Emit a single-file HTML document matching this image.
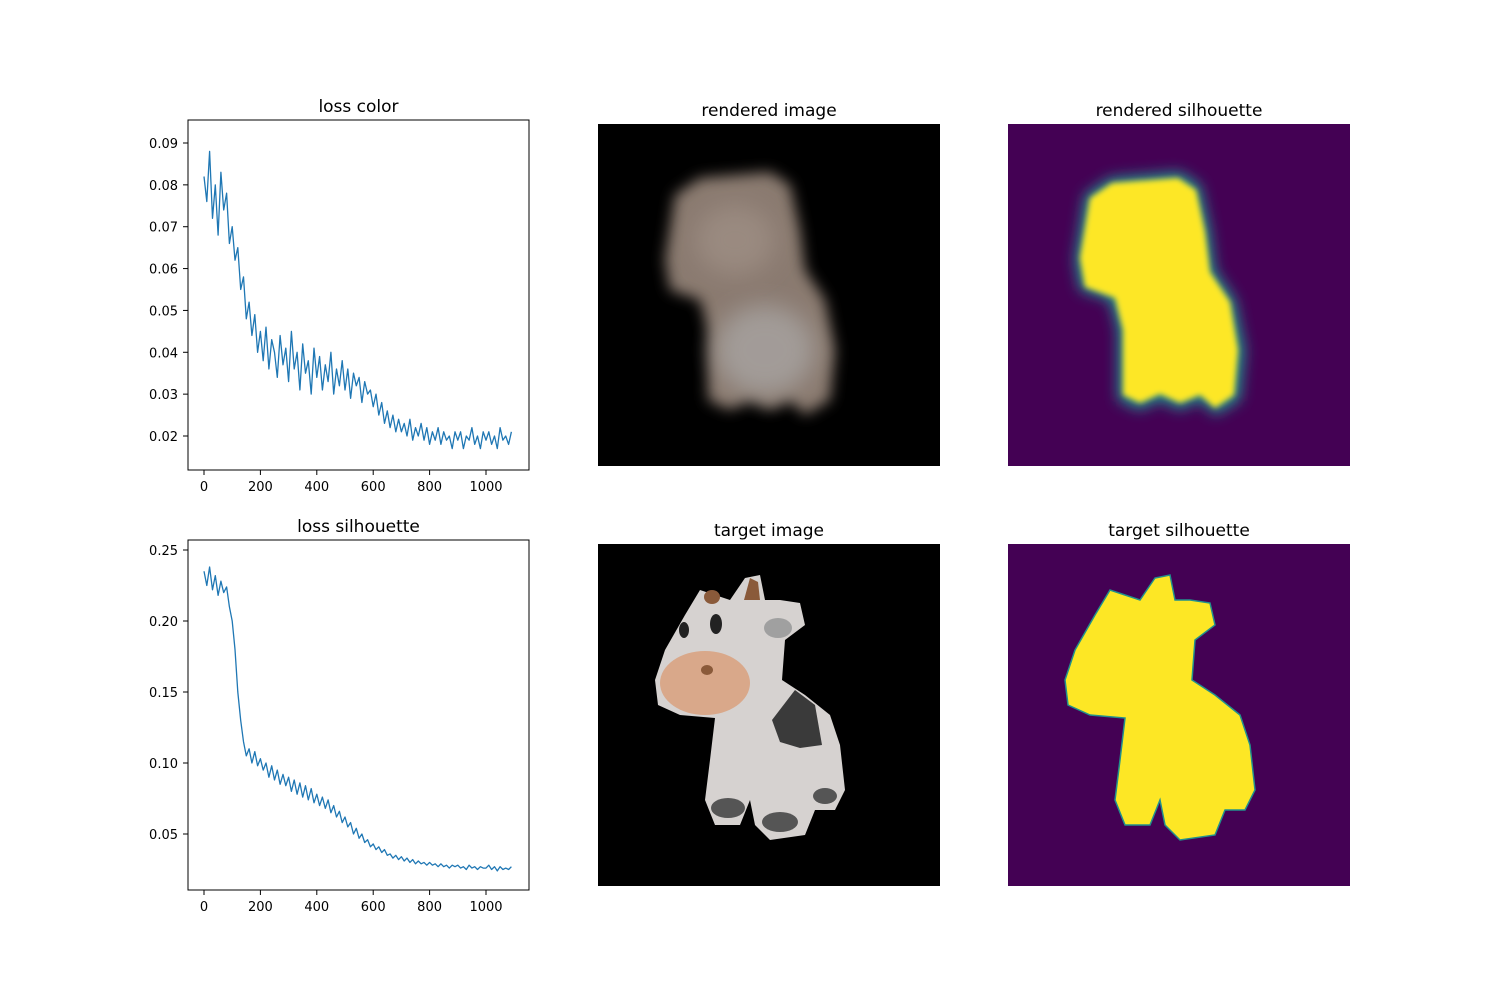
<!DOCTYPE html>
<html><head><meta charset="utf-8">
<style>
body{margin:0;background:#fff;}
svg{display:block;font-family:"DejaVu Sans","Liberation Sans",sans-serif;}
</style></head>
<body>
<svg id="fig" width="1500" height="1000" viewBox="0 0 1500 1000" xmlns="http://www.w3.org/2000/svg">
<defs>
<filter id="blur6" x="-20%" y="-20%" width="140%" height="140%"><feGaussianBlur stdDeviation="7"/></filter>
<filter id="blur10" x="-30%" y="-30%" width="160%" height="160%"><feGaussianBlur stdDeviation="12"/></filter>
<filter id="blur3" x="-20%" y="-20%" width="140%" height="140%"><feGaussianBlur stdDeviation="3"/></filter>
<clipPath id="c1"><rect x="598" y="124" width="342" height="342"/></clipPath>
<clipPath id="c2"><rect x="1008" y="124" width="342" height="342"/></clipPath>
</defs>
<rect width="1500" height="1000" fill="#fff"/>

<!-- rendered image -->
<g clip-path="url(#c1)">
<rect x="598" y="124" width="342" height="342" fill="#000"/>
<path filter="url(#blur6)" fill="#8a7a70" d="M665,260 L675,195 L700,178 L770,172 L790,185 L800,230 L805,270 L825,300 L835,350 L830,400 L805,415 L790,400 L770,410 L750,400 L730,410 L708,400 L708,330 L700,300 L670,290 Z"/>
<ellipse filter="url(#blur10)" cx="765" cy="350" rx="50" ry="45" fill="#a8a4a2" opacity="0.8"/>
<ellipse filter="url(#blur10)" cx="735" cy="240" rx="40" ry="35" fill="#9a8a80"/>
</g>
<text x="769" y="116" font-size="17" text-anchor="middle">rendered image</text>

<!-- rendered silhouette -->
<g clip-path="url(#c2)">
<rect x="1008" y="124" width="342" height="342" fill="#440154"/>
<path filter="url(#blur6)" fill="#21918c" d="M1075,260 L1085,195 L1110,178 L1180,172 L1200,185 L1210,230 L1215,270 L1235,300 L1245,350 L1240,400 L1215,415 L1200,400 L1180,410 L1160,400 L1140,410 L1118,400 L1118,330 L1110,300 L1080,290 Z"/>
<path filter="url(#blur3)" fill="#fde725" d="M1080,258 L1090,198 L1112,183 L1178,178 L1196,190 L1205,232 L1210,272 L1230,302 L1238,350 L1234,395 L1215,408 L1200,395 L1180,403 L1160,394 L1140,403 L1123,395 L1123,330 L1115,298 L1085,287 Z"/>
</g>
<text x="1179" y="116" font-size="17" text-anchor="middle">rendered silhouette</text>

<!-- target image -->
<g>
<rect x="598" y="544" width="342" height="342" fill="#000"/>
<g transform="translate(-410,0)">
<path fill="#d6d2d0" d="M1065,680 L1075,650 L1095,615 L1110,590 L1125,595 L1140,600 L1155,578 L1170,575 L1175,600 L1190,600 L1210,603 L1215,625 L1195,640 L1192,680 L1215,695 L1240,715 L1250,745 L1255,790 L1245,810 L1225,810 L1215,835 L1180,840 L1165,825 L1160,800 L1150,825 L1125,825 L1115,800 L1120,760 L1125,718 L1090,715 L1068,705 Z"/>
</g>
<ellipse cx="712" cy="597" rx="8" ry="7" fill="#8a5a3a"/>
<path d="M744,600 L750,578 L758,582 L760,600 Z" fill="#8a5a3a"/>
<ellipse cx="778" cy="628" rx="14" ry="10" fill="#a0a0a0"/>
<ellipse cx="705" cy="683" rx="45" ry="32" fill="#d9a88a"/>
<ellipse cx="707" cy="670" rx="6" ry="5" fill="#8a5a3a"/>
<ellipse cx="684" cy="630" rx="5" ry="8" fill="#222"/>
<ellipse cx="716" cy="624" rx="6" ry="10" fill="#222"/>
<path d="M772,720 L795,690 L815,705 L822,745 L800,748 L780,742 Z" fill="#3a3a3a"/>
<ellipse cx="728" cy="808" rx="17" ry="10" fill="#555"/>
<ellipse cx="780" cy="822" rx="18" ry="10" fill="#555"/>
<ellipse cx="825" cy="796" rx="12" ry="8" fill="#555"/>
</g>
<text x="769" y="536" font-size="17" text-anchor="middle">target image</text>

<!-- target silhouette -->
<g>
<rect x="1008" y="544" width="342" height="342" fill="#440154"/>
<path fill="#fde725" stroke="#21918c" stroke-width="1.5" d="M1065,680 L1075,650 L1095,615 L1110,590 L1125,595 L1140,600 L1155,578 L1170,575 L1175,600 L1190,600 L1210,603 L1215,625 L1195,640 L1192,680 L1215,695 L1240,715 L1250,745 L1255,790 L1245,810 L1225,810 L1215,835 L1180,840 L1165,825 L1160,800 L1150,825 L1125,825 L1115,800 L1120,760 L1125,718 L1090,715 L1068,705 Z"/>
</g>
<text x="1179" y="536" font-size="17" text-anchor="middle">target silhouette</text>

<g id="plots"></g>
</svg>
<script>
const iters = [];
for (let i = 0; i < 110; i++) iters.push(i * 10);
const colorLoss = [
0.082,0.076,0.088,0.072,0.080,0.068,0.083,0.074,0.078,0.066,
0.070,0.062,0.065,0.055,0.058,0.048,0.052,0.044,0.049,0.040,
0.045,0.038,0.046,0.036,0.043,0.040,0.034,0.044,0.037,0.041,
0.033,0.045,0.036,0.040,0.031,0.042,0.035,0.038,0.030,0.041,
0.034,0.039,0.031,0.037,0.033,0.040,0.030,0.036,0.032,0.038,
0.031,0.036,0.029,0.035,0.032,0.034,0.028,0.033,0.030,0.031,
0.027,0.030,0.025,0.028,0.023,0.026,0.022,0.025,0.021,0.024,
0.021,0.023,0.020,0.024,0.019,0.022,0.020,0.023,0.019,0.022,
0.018,0.021,0.019,0.022,0.018,0.021,0.019,0.020,0.017,0.021,
0.019,0.021,0.017,0.020,0.019,0.022,0.018,0.020,0.017,0.021,
0.019,0.021,0.018,0.020,0.017,0.022,0.019,0.020,0.018,0.021];
const silLoss = [
0.235,0.225,0.238,0.222,0.232,0.218,0.228,0.220,0.224,0.210,
0.200,0.180,0.150,0.130,0.115,0.105,0.110,0.100,0.108,0.098,
0.103,0.095,0.100,0.090,0.098,0.088,0.095,0.085,0.092,0.084,
0.090,0.080,0.088,0.078,0.086,0.076,0.084,0.074,0.082,0.072,
0.078,0.070,0.076,0.068,0.074,0.065,0.070,0.062,0.066,0.058,
0.062,0.055,0.058,0.050,0.054,0.047,0.050,0.044,0.046,0.041,
0.043,0.039,0.041,0.037,0.039,0.035,0.036,0.033,0.035,0.032,
0.034,0.031,0.033,0.030,0.032,0.029,0.031,0.029,0.030,0.028,
0.030,0.028,0.029,0.027,0.029,0.027,0.028,0.026,0.028,0.027,
0.028,0.026,0.027,0.025,0.028,0.026,0.027,0.025,0.027,0.026,
0.026,0.028,0.025,0.027,0.024,0.027,0.025,0.026,0.025,0.027];
const xTicks = [0,200,400,600,800,1000];
const colorYTicks = [0.02,0.03,0.04,0.05,0.06,0.07,0.08,0.09];
const silYTicks = [0.05,0.10,0.15,0.20,0.25];

const NS = "http://www.w3.org/2000/svg";
const root = document.getElementById('plots');
function mk(tag, attrs, parent){const e=document.createElementNS(NS,tag);for(const k in attrs)e.setAttribute(k,attrs[k]);parent.appendChild(e);return e;}

function drawPlot(name, top, ys, yTicks, y0v, y0p, y1v, y1p, title, dec){
  const g = mk('g', {}, root);
  
  
  const L=188,R=529,T=top,B=top+350;
  const xs = v => 204 + v*(486-204)/1000;
  const yf = v => y0p + (v-y0v)*(y1p-y0p)/(y1v-y0v);
  const frame = mk('rect',{x:L,y:T,width:R-L,height:B-T,fill:'none',stroke:'#000','stroke-width':1},g);
  
  
  xTicks.forEach(t=>{
    mk('line',{x1:xs(t),x2:xs(t),y1:B,y2:B+5,stroke:'#000'},g);
    const tx = mk('text',{x:xs(t),y:B+21,'font-size':13,'text-anchor':'middle'},g);
    tx.textContent = t;
    
    
  });
  yTicks.forEach(t=>{
    mk('line',{x1:L-5,x2:L,y1:yf(t),y2:yf(t),stroke:'#000'},g);
    const tx = mk('text',{x:L-10,y:yf(t)+5,'font-size':13,'text-anchor':'end'},g);
    tx.textContent = t.toFixed(dec);
    
    
  });
  const d = ys.map((v,i)=>(i?'L':'M')+xs(iters[i]).toFixed(1)+','+yf(v).toFixed(1)).join(' ');
  const line = mk('path',{d:d,fill:'none',stroke:'#1f77b4','stroke-width':1.3,'stroke-linejoin':'round'},g);
  
  
  const tt = mk('text',{x:(L+R)/2,y:T-8,'font-size':17,'text-anchor':'middle'},g);
  tt.textContent = title;
  
  
}
drawPlot('loss-color-plot',120,colorLoss,colorYTicks,0.09,143,0.02,436,'loss color',2);
drawPlot('loss-silhouette-plot',540,silLoss,silYTicks,0.25,550,0.05,834,'loss silhouette',2);
</script>
</body></html>
